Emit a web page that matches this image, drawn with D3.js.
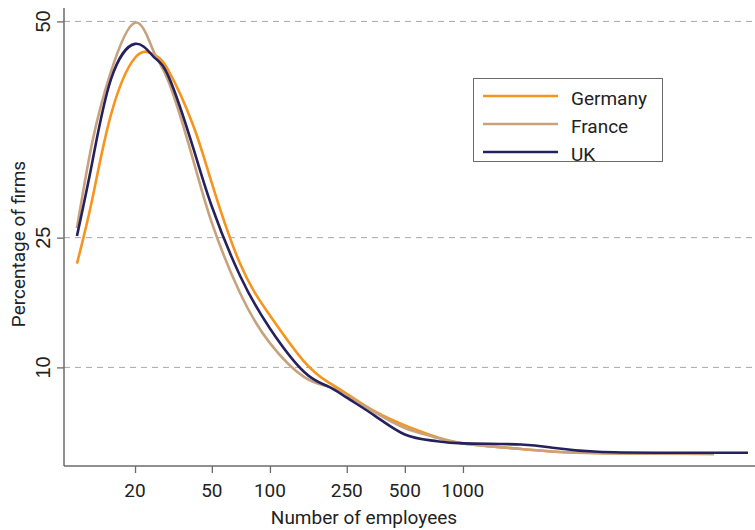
<!DOCTYPE html>
<html>
<head>
<meta charset="utf-8">
<script src="https://cdn.jsdelivr.net/npm/d3@7"></script>
<style>
  html, body { margin: 0; padding: 0; background: #fff; }
  svg { display: block; }
</style>
</head>
<body>
<svg id="chart" width="755" height="530"></svg>
<script>
// ---- data ----
const employees = [10, 12, 15, 20, 25, 30, 40, 50, 70, 100, 150, 200, 250, 350, 500, 700, 1000, 2000, 3000, 5000, 10000, 20000, 30000];
const germany = [22.0, 29.4, 39.2, 45.8, 46.2, 44.2, 38.0, 31.3, 22.0, 16.0, 10.7, 8.3, 6.95, 4.9, 3.3, 2.07, 1.22, 0.57, 0.25, 0.1, 0.05, 0.0, null];
const france  = [26.1, 36.0, 44.2, 49.85, 46.5, 42.9, 34.0, 26.7, 18.6, 12.8, 8.9, 7.8, 6.75, 4.8, 3.0, 1.99, 1.22, 0.57, 0.25, 0.07, 0.03, 0.0, null];
const uk      = [25.2, 33.7, 43.3, 47.4, 45.9, 43.5, 35.4, 28.6, 20.6, 14.5, 9.5, 7.8, 6.5, 4.4, 2.24, 1.53, 1.22, 1.09, 0.68, 0.24, 0.14, 0.14, 0.14];
const seriesNames = ["Germany", "France", "UK"];
const seriesColors = ["#F7941D", "#C8A27C", "#25215E"];
const xTicks = [20, 50, 100, 250, 500, 1000];
const yTicks = [10, 25, 50];
const xTitle = "Number of employees";
const yTitle = "Percentage of firms";

// ---- layout ----
const svg = d3.select("#chart");
const mLeft = 64, mRight = 755, mTop = 8, mBottom = 466;

const x = d3.scaleLog().domain([8.57, 32600]).range([mLeft, mRight]);
const y = d3.scaleLinear().domain([-1.4, 51.55]).range([mBottom, mTop]);

const axisColor = "#6b6b6b";
const tickFont = "Roboto, 'Liberation Sans', sans-serif";

// gridlines
svg.append("g").selectAll("line").data(yTicks).join("line")
  .attr("x1", mLeft).attr("x2", mRight)
  .attr("y1", d => y(d)).attr("y2", d => y(d))
  .attr("stroke", "#a8a8a8").attr("stroke-width", 1)
  .attr("stroke-dasharray", "6,5");

// y axis
const yAxis = d3.axisLeft(y).tickValues(yTicks).tickSize(7).tickFormat("");
const gy = svg.append("g").attr("transform", `translate(${mLeft},0)`).call(yAxis);
gy.select(".domain").attr("d", `M0,${mTop}V${mBottom}`).attr("stroke", axisColor).attr("stroke-width", 1.5);
gy.selectAll(".tick line").attr("stroke", axisColor).attr("stroke-width", 1.3);

svg.append("g").selectAll("text").data(yTicks).join("text")
  .attr("transform", d => `translate(50,${y(d)}) rotate(-90)`)
  .attr("text-anchor", "middle")
  .attr("font-family", "'Liberation Sans', Arial, sans-serif")
  .attr("font-size", 20)
  .attr("fill", "#222")
  .text(d => d);

// x axis
const xAxis = d3.axisBottom(x).tickValues(xTicks).tickSize(7).tickFormat("");
const gx = svg.append("g").attr("transform", `translate(0,${mBottom})`).call(xAxis);
gx.select(".domain").attr("d", `M${mLeft},0H${mRight}`).attr("stroke", axisColor).attr("stroke-width", 1.5);
gx.selectAll(".tick line").attr("stroke", axisColor).attr("stroke-width", 1.3);

svg.append("g").selectAll("text").data(xTicks).join("text")
  .attr("x", d => x(d)).attr("y", 497)
  .attr("text-anchor", "middle")
  .attr("font-family", tickFont)
  .attr("font-size", 19)
  .attr("fill", "#222")
  .text(d => d);

// axis titles
svg.append("text")
  .attr("x", 364).attr("y", 524)
  .attr("text-anchor", "middle")
  .attr("font-family", tickFont)
  .attr("font-size", 19)
  .attr("fill", "#222")
  .text(xTitle);

svg.append("text")
  .attr("transform", "translate(25,244) rotate(-90)")
  .attr("text-anchor", "middle")
  .attr("font-family", tickFont)
  .attr("font-size", 19)
  .attr("fill", "#222")
  .text(yTitle);

// lines
const allSeries = [germany, france, uk];
const line = d3.line()
  .defined(d => d[1] !== null)
  .x(d => x(d[0])).y(d => y(d[1]))
  .curve(d3.curveNatural);

allSeries.forEach((vals, i) => {
  const pts = employees.map((e, j) => [e, vals[j]]);
  svg.append("path")
    .attr("d", line(pts))
    .attr("fill", "none")
    .attr("stroke", seriesColors[i])
    .attr("stroke-width", 2.6)
    .attr("stroke-linejoin", "round")
    .attr("stroke-linecap", "butt");
});

// legend
const lg = svg.append("g");
lg.append("rect")
  .attr("x", 473.5).attr("y", 78.5).attr("width", 189).attr("height", 83)
  .attr("fill", "#fff").attr("stroke", axisColor).attr("stroke-width", 1);
seriesNames.forEach((name, i) => {
  const ly = 96 + i * 28;
  lg.append("line")
    .attr("x1", 483).attr("x2", 558).attr("y1", ly).attr("y2", ly)
    .attr("stroke", seriesColors[i]).attr("stroke-width", 2.6);
  lg.append("text")
    .attr("x", 571).attr("y", ly + 9)
    .attr("font-family", tickFont)
    .attr("font-size", 19)
    .attr("fill", "#222")
    .text(name);
});
</script>
</body>
</html>
